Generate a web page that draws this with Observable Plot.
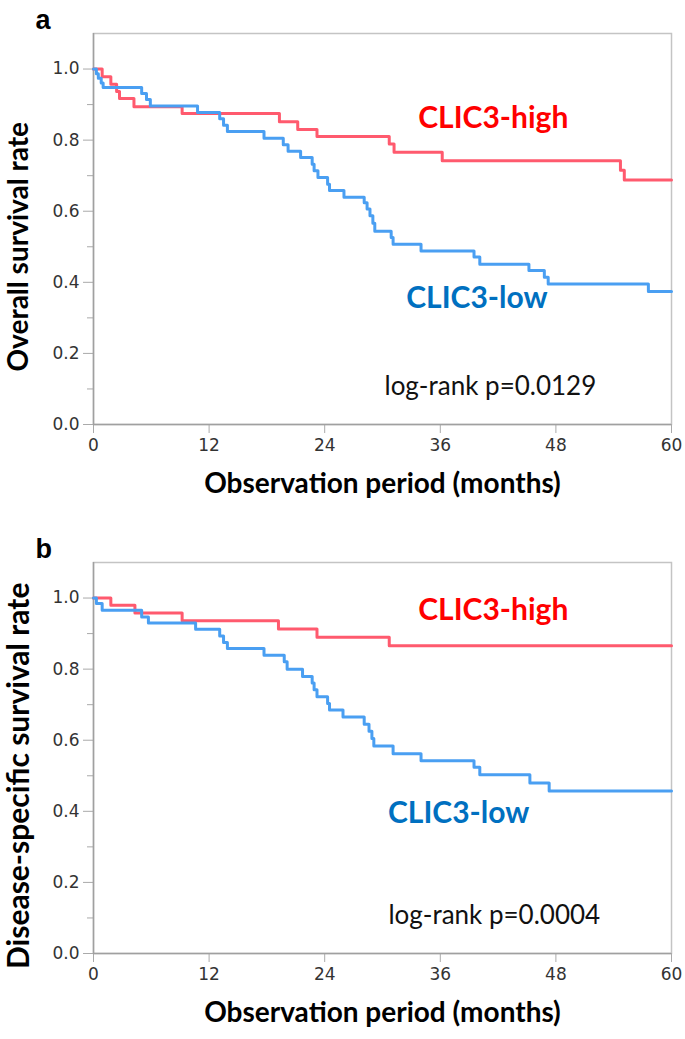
<!DOCTYPE html>
<html><head><meta charset="utf-8">
<script src="https://cdn.jsdelivr.net/npm/d3@7"></script>
<script src="https://cdn.jsdelivr.net/npm/@observablehq/plot@0.6"></script>
<style>body{margin:0;background:#fff} #chart svg{display:block}</style>
</head><body><div id="chart"></div>
<script>
// Tick values
const xTicks = [0, 12, 24, 36, 48, 60];
const yMajor = [0, 0.2, 0.4, 0.6, 0.8, 1.0];
const yMinor = [0.1, 0.3, 0.5, 0.7, 0.9];
const xTitle = "Observation period (months)";

// Panel a: overall survival
const osHighT = [0, 0.9, 1.8, 2.4, 2.7, 4.2, 9.2, 19.3, 21.2, 23.2, 30.7, 31.2, 36.2, 54.7, 55.1];
const osHighS = [1.0, 0.978, 0.957, 0.937, 0.917, 0.894, 0.875, 0.852, 0.830, 0.810, 0.789, 0.766, 0.742, 0.715, 0.688];
const osLowT = [0, 0.3, 0.5, 0.8, 1.0, 5.0, 5.5, 5.9, 10.8, 13.1, 13.5, 13.9, 17.7, 19.7, 20.2, 21.5, 22.7, 22.9, 23.3, 24.3, 24.5, 26.0, 28.1, 28.4, 28.7, 29.0, 29.2, 30.9, 31.1, 34.0, 39.5, 40.1, 45.2, 46.8, 47.2, 57.6];
const osLowS = [1.0, 0.987, 0.974, 0.961, 0.948, 0.931, 0.914, 0.896, 0.878, 0.860, 0.842, 0.824, 0.805, 0.787, 0.769, 0.751, 0.732, 0.714, 0.695, 0.676, 0.658, 0.639, 0.624, 0.606, 0.587, 0.566, 0.544, 0.526, 0.507, 0.488, 0.471, 0.451, 0.433, 0.414, 0.395, 0.374];

// Panel b: disease-specific survival
const dsHighT = [0, 1.8, 4.3, 9.2, 19.2, 23.2, 30.7];
const dsHighS = [1.0, 0.980, 0.958, 0.936, 0.913, 0.890, 0.866];
const dsLowT = [0, 0.3, 0.9, 5.0, 5.7, 10.6, 13.1, 13.5, 13.9, 17.7, 19.8, 20.1, 21.7, 22.7, 22.9, 23.2, 24.3, 24.5, 25.9, 28.1, 28.6, 28.9, 29.1, 31.1, 34.0, 39.5, 40.1, 45.3, 47.3];
const dsLowS = [1.0, 0.985, 0.966, 0.947, 0.930, 0.912, 0.893, 0.875, 0.858, 0.839, 0.821, 0.800, 0.779, 0.761, 0.742, 0.722, 0.703, 0.685, 0.665, 0.645, 0.625, 0.605, 0.584, 0.562, 0.542, 0.524, 0.503, 0.480, 0.457];

// Annotation labels (data units)
const labelsA = [{x: 41.5, y: 0.862, text: "CLIC3-high", g: 0}, {x: 39.8, y: 0.354, text: "CLIC3-low", g: 1}];
const labelsB = [{x: 41.5, y: 0.966, text: "CLIC3-high", g: 0}, {x: 37.9, y: 0.394, text: "CLIC3-low", g: 1}];
const pvalA = [{x: 41.2, y: 0.107, text: "log-rank p=0.0129"}];
const pvalB = [{x: 41.6, y: 0.107, text: "log-rank p=0.0004"}];

const lineColors = ["#ff5a6e", "#4a9ff2"];
const labelColors = ["#ff0000", "#0070c0"];
const END = 60;

function steps(t, s) {
  const rows = t.map((d, i) => ({t: d, s: s[i]}));
  rows.push({t: END, s: s[s.length - 1]});
  return rows;
}

function panel({letter, ylabel, ysize, high, low, labels, pval, height, marginBottom}) {
  return Plot.plot({
    width: 685, height, marginTop: 33, marginLeft: 93, marginRight: 14, marginBottom,
    style: {fontFamily: "DejaVu Sans", fontSize: "17px", background: "#fff", overflow: "visible"},
    x: {domain: [0, 60]},
    y: {domain: [0, 1.1]},
    marks: [
      Plot.frame({stroke: "#c4c4c4", strokeWidth: 1.5}),
      Plot.axisY(yMajor, {tickSize: 10, tickPadding: 4, tickFormat: d => d.toFixed(1), stroke: "#aaa", fill: "#333", label: null}),
      Plot.axisY(yMinor, {tickSize: 6, text: null, stroke: "#aaa", label: null}),
      Plot.axisX(xTicks, {tickSize: 9, tickPadding: 5, stroke: "#aaa", fill: "#333", label: null}),
      Plot.ruleX([0], {stroke: "#a0a0a0", strokeWidth: 1.5}),
      Plot.ruleY([0], {stroke: "#a0a0a0", strokeWidth: 1.5}),
      Plot.line(steps(high[0], high[1]), {x: "t", y: "s", curve: "step-after", stroke: lineColors[0], strokeWidth: 3}),
      Plot.line(steps(low[0], low[1]), {x: "t", y: "s", curve: "step-after", stroke: lineColors[1], strokeWidth: 3}),
      Plot.text(labels, {x: "x", y: "y", text: "text", fill: d => labelColors[d.g], fontFamily: "Lato", fontWeight: "bold", fontSize: 30}),
      Plot.text(pval, {x: "x", y: "y", text: "text", fill: "#111", fontFamily: "Lato", fontSize: 26}),
      Plot.text([{y: 0.5, text: ylabel}], {y: "y", text: "text", frameAnchor: "left", textAnchor: "middle", lineAnchor: "middle", dx: -74, rotate: -90, fill: "#000", fontFamily: "Lato", fontWeight: "bold", fontSize: ysize}),
      Plot.text([xTitle], {frameAnchor: "bottom", dy: 68, fill: "#000", fontFamily: "Lato", fontWeight: "bold", fontSize: 28}),
      Plot.text([letter], {frameAnchor: "top-left", dx: -58, dy: -5, textAnchor: "start", lineAnchor: "bottom", fill: "#000", fontFamily: "Liberation Sans", fontWeight: "bold", fontSize: 27})
    ]
  });
}

const chart = document.getElementById("chart");
chart.append(panel({letter: "a", ylabel: "Overall survival rate", ysize: 28, high: [osHighT, osHighS], low: [osLowT, osLowS], labels: labelsA, pval: pvalA, height: 529, marginBottom: 105}));
chart.append(panel({letter: "b", ylabel: "Disease-specific survival rate", ysize: 30, high: [dsHighT, dsHighS], low: [dsLowT, dsLowS], labels: labelsB, pval: pvalB, height: 510, marginBottom: 86}));
</script>
</body></html>
